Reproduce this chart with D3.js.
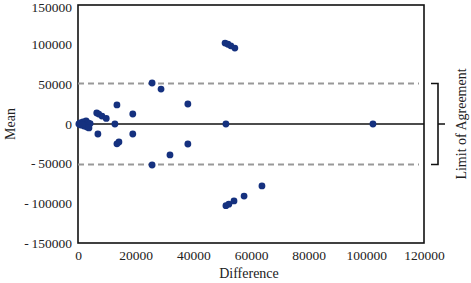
<!DOCTYPE html>
<html>
<head>
<meta charset="utf-8">
<script src="https://cdn.jsdelivr.net/npm/d3@7"></script>
<style>
  body { margin: 0; background: #fff; }
  text { font-family: "Liberation Serif", "DejaVu Serif", serif; fill: #222; }
</style>
</head>
<body>
<div id="chart"></div>
<script>
// data
var diffs = [300, 700, 1000, 1700, 2100, 2400, 2800, 3100, 3500, 4200, 3800, 1500,
  6500, 7200, 8300, 9800, 12800, 13500, 19000, 6900, 19000, 14200, 13500,
  25700, 28800, 38100, 31900, 38100, 25700, 51300,
  51000, 52000, 53000, 54400,
  51300, 52300, 54100, 57600, 63800, 102300];
var means = [0, 1300, -1300, 2500, -2500, 0, 3800, -3800, 1300, 500, -5000, -900,
  14000, 12500, 10000, 7000, 0, 24000, 12600, -12600, -12600, -22700, -25000,
  51700, 44000, 25200, -39000, -25200, -51700, 0,
  102000, 100500, 98500, 95700,
  -103000, -101000, -97000, -90800, -78000, 0];
var xTicks = [0, 20000, 40000, 60000, 80000, 100000, 120000];
var yTicks = [150000, 100000, 50000, 0, -50000, -100000, -150000];
var limits = [51000, -51000];

var width = 471, height = 283;
var margin = {top: 5, right: 47, bottom: 40, left: 78};
var w = width - margin.left - margin.right;
var h = height - margin.top - margin.bottom;

var svg = d3.select('#chart').append('svg')
  .attr('width', width)
  .attr('height', height);
var g = svg.append('g')
  .attr('transform', 'translate(' + margin.left + ',' + margin.top + ')');

var x = d3.scaleLinear().domain([0, 120000]).range([0, w]);
var y = d3.scaleLinear().domain([-150000, 150000]).range([h, 0]);

// frame
g.append('rect')
  .attr('x', 0).attr('y', 0)
  .attr('width', w).attr('height', h)
  .attr('fill', 'none')
  .attr('style', 'stroke: #111; stroke-width: 1.6px');

// limits of agreement
g.selectAll('.loa')
  .data(limits).enter().append('line')
  .attr('class', 'loa')
  .attr('x1', 0).attr('x2', w - 5)
  .attr('y1', d => y(d)).attr('y2', d => y(d))
  .attr('style', 'stroke: #999; stroke-width: 2px; stroke-dasharray: 6,4');

// zero line
g.append('line')
  .attr('x1', 0).attr('x2', w)
  .attr('y1', y(0)).attr('y2', y(0))
  .attr('style', 'stroke: #111; stroke-width: 1.6px');

// excel style numbers, minus with a little gap
var fmt = d => d < 0 ? '-\u2009' + Math.abs(d) : String(d);

// axes (labels only, no tick marks)
var yAxis = g.append('g')
  .call(d3.axisLeft(y).tickValues(yTicks).tickSize(0).tickPadding(6).tickFormat(fmt));
var xAxis = g.append('g')
  .attr('transform', 'translate(0,' + h + ')')
  .call(d3.axisBottom(x).tickValues(xTicks).tickSize(0).tickPadding(7).tickFormat(fmt));
[yAxis, xAxis].forEach(function(a) {
  a.attr('font-family', null).attr('font-size', null);
  a.select('.domain').remove();
  a.selectAll('text')
    .attr('style', 'font-family: "Liberation Serif", serif; font-size: 13.5px; fill: #222');
});
// top label sits a hair lower so it is not clipped
yAxis.selectAll('.tick text').filter(d => d === 150000).attr('dy', '0.5em');

// dots
g.append('g').selectAll('.dot')
  .data(diffs.map((d, i) => [d, means[i]])).enter().append('circle')
  .attr('class', 'dot')
  .attr('cx', d => x(d[0]))
  .attr('cy', d => y(d[1]))
  .attr('r', 3.4)
  .style('fill', '#15317f');

// axis titles
svg.append('text')
  .attr('x', margin.left + w / 2 - 2)
  .attr('y', 278)
  .attr('text-anchor', 'middle')
  .style('font-size', '14px')
  .text('Difference');
svg.append('text')
  .attr('transform', 'translate(15,' + (margin.top + y(0)) + ') rotate(-90)')
  .attr('text-anchor', 'middle')
  .style('font-size', '14px')
  .text('Mean');

// bracket for limit of agreement
var bx = margin.left + w + 14;
var yTop = margin.top + y(limits[0]), yBot = margin.top + y(limits[1]), yMid = margin.top + y(0);
svg.append('path')
  .attr('d', 'M' + (bx - 7) + ',' + yTop + 'H' + bx + 'V' + yBot + 'H' + (bx - 7) +
    'M' + bx + ',' + yMid + 'H' + (bx + 7))
  .attr('fill', 'none')
  .attr('style', 'stroke: #111; stroke-width: 1.6px');
svg.append('text')
  .attr('transform', 'translate(' + (bx + 28) + ',' + yMid + ') rotate(-90)')
  .attr('text-anchor', 'middle')
  .style('font-size', '14px')
  .text('Limit of Agreement');
</script>
</body>
</html>
